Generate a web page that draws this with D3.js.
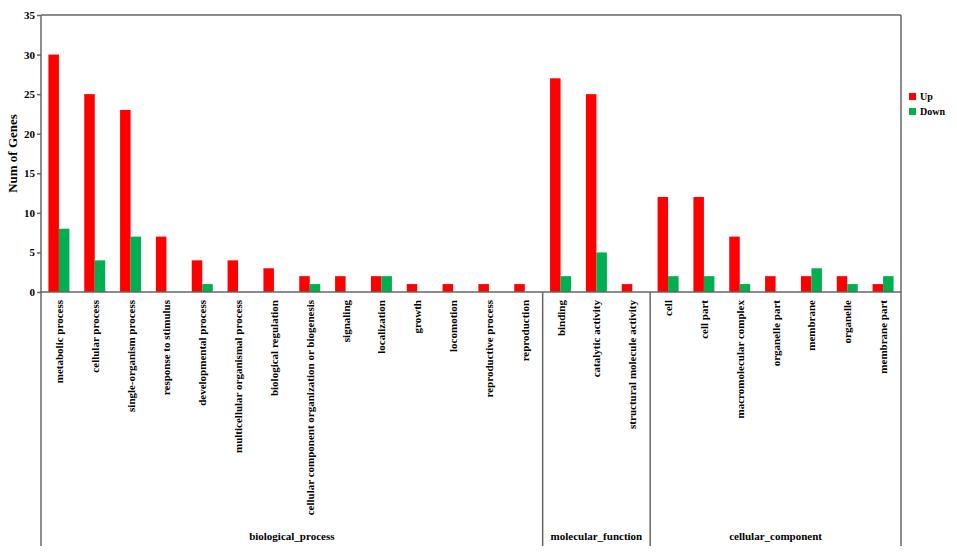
<!DOCTYPE html>
<html>
<head>
<meta charset="utf-8">
<script src="https://cdn.jsdelivr.net/npm/d3@7"></script>
<style>
  body { margin: 0; background: #fff; }
  text { font-family: "Liberation Serif", "Times New Roman", serif; font-weight: bold; }
</style>
</head>
<body>
<div id="chart"></div>
<script>
const terms = ['metabolic process', 'cellular process', 'single-organism process', 'response to stimulus',
  'developmental process', 'multicellular organismal process', 'biological regulation',
  'cellular component organization or biogenesis', 'signaling', 'localization', 'growth',
  'locomotion', 'reproductive process', 'reproduction',
  'binding', 'catalytic activity', 'structural molecule activity',
  'cell', 'cell part', 'macromolecular complex', 'organelle part', 'membrane', 'organelle', 'membrane part'];
const upCounts   = [30, 25, 23, 7, 4, 4, 3, 2, 2, 2, 1, 1, 1, 1, 27, 25, 1, 12, 12, 7, 2, 2, 2, 1];
const downCounts = [8, 4, 7, 0, 1, 0, 0, 1, 0, 2, 0, 0, 0, 0, 2, 5, 0, 2, 2, 1, 0, 3, 1, 2];
const groups = ['biological_process', 'molecular_function', 'cellular_component'];
const groupSizes = [14, 3, 7];
const series = ['Up', 'Down'];
const yTicks = [0, 5, 10, 15, 20, 25, 30, 35];

(function () {

const width = 957, height = 554;
const plotLeft = 41, plotRight = 901, plotTop = 15, zeroY = 292, plotBottom = 546;
const axisColor = '#666';

const svg = d3.select('#chart').append('svg')
    .attr('width', width)
    .attr('height', height);

const x = d3.scaleBand().domain(terms).range([plotLeft, plotRight]);
const xs = d3.scaleBand().domain(series).range([0, 21]);
const y = d3.scaleLinear().domain([0, 35]).range([zeroY, plotTop]);
const color = d3.scaleOrdinal().domain(series).range(['#ff0000', '#00b050']);

const rows = terms.map((t, i) => ({ term: t, Up: upCounts[i], Down: downCounts[i] }));

// bars
svg.append('g')
    .selectAll('g')
    .data(rows)
    .join('g')
    .attr('transform', d => `translate(${x(d.term) + x.bandwidth() / 2 - 10.5},0)`)
    .selectAll('rect')
    .data(d => series.map(s => ({ key: s, value: d[s] })))
    .join('rect')
    .attr('x', d => xs(d.key))
    .attr('width', xs.bandwidth())
    .attr('y', d => y(d.value))
    .attr('height', d => zeroY - y(d.value))
    .attr('fill', d => color(d.key));

// frame
const frame = svg.append('g').attr('stroke', axisColor).attr('stroke-width', 1.5);
frame.append('line').attr('x1', plotLeft).attr('x2', plotRight).attr('y1', plotTop).attr('y2', plotTop);
frame.append('line').attr('x1', plotLeft).attr('x2', plotRight).attr('y1', zeroY).attr('y2', zeroY);
frame.append('line').attr('x1', plotLeft).attr('x2', plotLeft).attr('y1', plotTop).attr('y2', plotBottom);
frame.append('line').attr('x1', plotRight).attr('x2', plotRight).attr('y1', plotTop).attr('y2', plotBottom);

// y axis
const yAxis = svg.append('g')
    .attr('transform', `translate(${plotLeft},0)`)
    .call(d3.axisLeft(y).tickValues(yTicks).tickSize(4).tickPadding(2));
yAxis.select('.domain').remove();
yAxis.selectAll('line').attr('stroke', axisColor).attr('stroke-width', 1.5);
yAxis.selectAll('text')
    .attr('font-family', '"Liberation Serif", serif')
    .attr('font-size', 11)
    .attr('font-weight', 'bold')
    .attr('fill', '#000');

svg.append('text')
    .attr('transform', `translate(17,${(plotTop + zeroY) / 2}) rotate(-90)`)
    .attr('text-anchor', 'middle')
    .attr('font-size', 13)
    .text('Num of Genes');

// category labels
svg.append('g')
    .selectAll('text')
    .data(terms)
    .join('text')
    .attr('transform', d => `translate(${x(d) + x.bandwidth() / 2 + 4},300) rotate(-90)`)
    .attr('text-anchor', 'end')
    .attr('font-size', 11)
    .text(d => d);

// group separators and labels
let start = 0;
groups.forEach((g, i) => {
    const x0 = x(terms[start]);
    const end = start + groupSizes[i];
    const x1 = end < terms.length ? x(terms[end]) : plotRight;
    if (end < terms.length) {
        svg.append('line')
            .attr('x1', x1).attr('x2', x1)
            .attr('y1', zeroY).attr('y2', plotBottom)
            .attr('stroke', axisColor).attr('stroke-width', 1.5);
    }
    svg.append('text')
        .attr('x', (x0 + x1) / 2)
        .attr('y', 540)
        .attr('text-anchor', 'middle')
        .attr('font-size', 11)
        .text(g);
    start = end;
});

// legend
const legend = svg.append('g').attr('transform', 'translate(909,93)');
series.forEach((s, i) => {
    legend.append('rect')
        .attr('x', 0).attr('y', i * 15)
        .attr('width', 7).attr('height', 7)
        .attr('fill', color(s));
    legend.append('text')
        .attr('x', 11).attr('y', i * 15 + 7)
        .attr('font-size', 10)
        .text(s);
});

})();
</script>
</body>
</html>
